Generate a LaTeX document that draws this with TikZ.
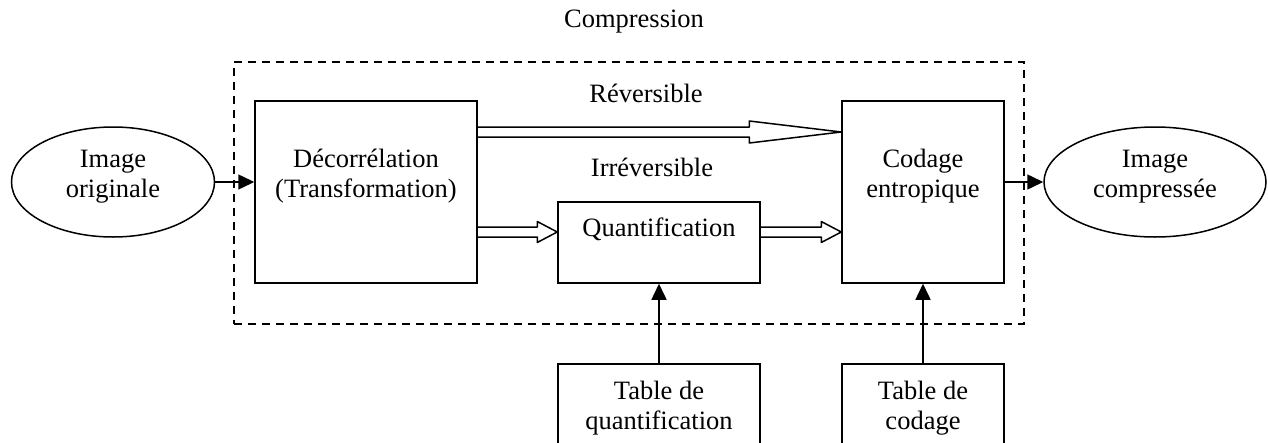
\documentclass[tikz,border=0pt]{standalone}
\usepackage{fontspec}
\setmainfont{Liberation Serif}
\usetikzlibrary{arrows.meta,calc,shapes.geometric}

% hollow block arrow from #1 to #2: head length #3, head half-width #4
\newcommand\hollowarrow[4]{%
  \draw[fat] ($(#1)+(0,-5)$) -- ($(#2)+(-#3,-5)$) -- ($(#2)+(-#3,-#4)$) -- (#2)
    -- ($(#2)+(-#3,#4)$) -- ($(#2)+(-#3,5)$) -- ($(#1)+(0,5)$);}

\begin{document}
\begin{tikzpicture}[x=1pt,y=-1pt,
  every node/.style={font=\fontsize{26.5}{30}\selectfont, inner sep=0pt},
  blk/.style={draw, line width=1.5pt, rectangle, inner sep=0pt},
  oval/.style={draw, line width=1.5pt, ellipse, inner sep=0pt},
  lbl/.style={align=center},
  frame/.style={draw, line width=1.5pt, dash pattern=on 8pt off 6pt},
  thin/.style={line width=1.5pt, -{Triangle[length=16pt,width=15pt]}},
  fat/.style={line width=1.5pt, line join=round}]
\clip (0,0) rectangle (1268,442);

% compression stage frame
\node[frame, minimum width=790, minimum height=262] (comp) at (629,193) {};
\node (tcomp) at (634,22) {Compression};

% input and output images
\node[oval, minimum width=203, minimum height=110] (orig) at (113,182) {};
\node[lbl] (torig) at (113,177) {Image\\originale};
\node[oval, minimum width=222, minimum height=110] (outimg) at (1155,182) {};
\node[lbl] (tout) at (1155,177) {Image\\compressée};

% processing blocks
\node[blk, minimum width=222, minimum height=182] (dec) at (366,192) {};
\node[lbl] (tdec) at (366,176) {Décorrélation\\(Transformation)};
\node[blk, minimum width=162, minimum height=182] (cod) at (923,192) {};
\node[lbl] (tcod) at (923,176) {Codage\\entropique};
\node[blk, minimum width=202, minimum height=81] (quant) at (659,242.5) {};
\node (tquant) at (659,229) {Quantification};

% tables
\node[blk, minimum width=202, minimum height=106] (tq) at (659,417) {};
\node[lbl] (ttq) at (659,408) {Table de\\quantification};
\node[blk, minimum width=162, minimum height=106] (tc) at (923,417) {};
\node[lbl] (ttc) at (923,408) {Table de\\codage};

% path labels
\node (trev) at (646,93) {Réversible};
\node (tirr) at (652,167) {Irréversible};

% block arrows
\coordinate (ry) at (0,132);
\coordinate (qy) at (0,232);
\coordinate (r0) at (dec.east |- ry);
\coordinate (r1) at (cod.west |- ry);
\coordinate (q0) at (dec.east |- qy);
\coordinate (q1) at (quant.west |- qy);
\coordinate (q2) at (quant.east |- qy);
\coordinate (q3) at (cod.west |- qy);
\hollowarrow{r0}{r1}{92}{11}
\hollowarrow{q0}{q1}{20}{10.5}
\hollowarrow{q2}{q3}{20}{10.5}

% plain arrows
\draw[thin] (orig.east) -- (orig.east -| dec.west);
\draw[thin] (cod.east |- outimg.west) -- (outimg.west);
\draw[thin] (tq.north) -- (quant.south);
\draw[thin] (tc.north) -- (cod.south);
\end{tikzpicture}
\end{document}
